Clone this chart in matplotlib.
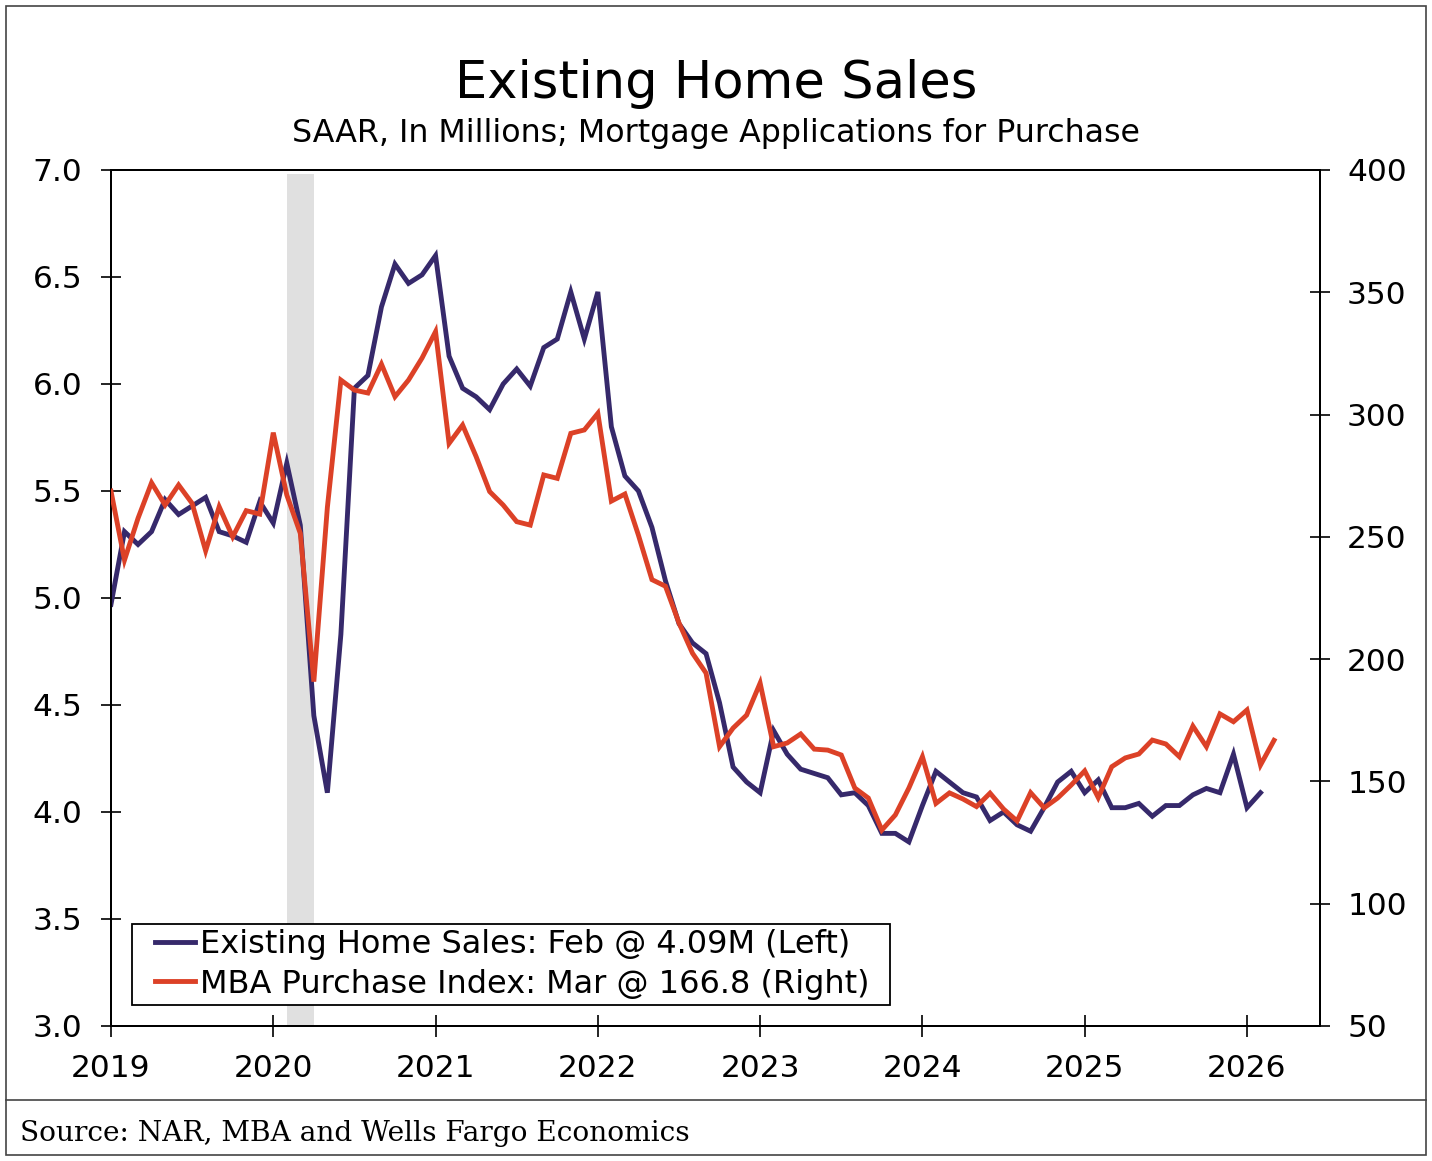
import numpy as np
import matplotlib.pyplot as plt
from matplotlib.patches import Rectangle
from matplotlib.lines import Line2D
from matplotlib.legend_handler import HandlerLine2D

# data, monthly from Jan 2019
ehs = [4.97, 5.31, 5.25, 5.31, 5.46, 5.39, 5.43, 5.47, 5.31, 5.29, 5.26, 5.45,
       5.35, 5.63, 5.34, 4.45, 4.09, 4.83, 5.98, 6.04, 6.36, 6.56, 6.47, 6.51,
       6.60, 6.13, 5.98, 5.94, 5.88, 6.00, 6.07, 5.99, 6.17, 6.21, 6.43, 6.21,
       6.43, 5.80, 5.57, 5.50, 5.33, 5.08, 4.88, 4.79, 4.74, 4.51, 4.21, 4.14,
       4.09, 4.38, 4.27, 4.20, 4.18, 4.16, 4.08, 4.09, 4.03, 3.90, 3.90, 3.86,
       4.03, 4.19, 4.14, 4.09, 4.07, 3.96, 4.00, 3.94, 3.91, 4.02, 4.14, 4.19,
       4.09, 4.15, 4.02, 4.02, 4.04, 3.98, 4.03, 4.03, 4.08, 4.11, 4.09, 4.27,
       4.02, 4.09]
mba = [268.7, 240.5, 257.6, 272.1, 263.0, 271.2, 263.7, 244.3, 262.3, 250.0, 260.7, 259.3,
       292.6, 267.1, 251.4, 190.8, 262.0, 314.1, 310.0, 308.8, 320.6, 307.3, 314.1, 323.1,
       333.9, 288.2, 295.7, 282.8, 268.5, 263.0, 256.2, 254.8, 275.3, 273.9, 292.3, 293.7,
       300.5, 264.6, 267.5, 250.7, 232.5, 229.8, 214.8, 202.4, 194.3, 164.2, 171.8, 177.1,
       190.2, 164.2, 165.7, 169.4, 163.2, 162.8, 160.8, 147.3, 143.2, 130.1, 136.3, 147.3,
       160.1, 141.0, 145.3, 142.8, 139.7, 145.2, 138.7, 133.8, 145.4, 139.2, 143.2, 148.5,
       154.3, 143.4, 156.0, 159.6, 161.2, 166.9, 165.3, 160.1, 172.6, 164.2, 177.6, 174.4,
       179.2, 156.7, 166.8]
years = [2019, 2020, 2021, 2022, 2023, 2024, 2025, 2026]
left_ticks = [3.0, 3.5, 4.0, 4.5, 5.0, 5.5, 6.0, 6.5, 7.0]
right_ticks = [50, 100, 150, 200, 250, 300, 350, 400]
recession = (2020 + 1 / 12, 2020 + 3 / 12)

labels = ["Existing Home Sales: Feb @ 4.09M (Left)",
          "MBA Purchase Index: Mar @ 166.8 (Right)"]

blue = "#36296B"
red = "#DC4127"

x_ehs = 2019 + np.arange(len(ehs)) / 12
x_mba = 2019 + np.arange(len(mba)) / 12

plt.rcParams['font.family'] = ['DejaVu Sans']

fig = plt.figure(figsize=(14.32, 11.61), dpi=100)
ax = fig.add_axes([0.0775, 0.1163, 0.8443, 0.7373])
ax2 = ax.twinx()

ax.axvspan(recession[0], recession[1], ymin=0, ymax=0.995, color="#E0E0E0", lw=0, zorder=0)
ax.plot(x_ehs, ehs, color=blue, lw=3.5, solid_joinstyle='miter', zorder=3)
ax2.plot(x_mba, mba, color=red, lw=3.5, solid_joinstyle='miter', zorder=3)

ax.set_xlim(2019, 2026.45)
ax.set_ylim(3.0, 7.0)
ax2.set_ylim(50, 400)

ax.set_xticks(years)
ax.set_xticklabels([str(y) for y in years])
ax.set_yticks(left_ticks)
ax.set_yticklabels([f"{v:.1f}" for v in left_ticks])
ax2.set_yticks(right_ticks)

ax.tick_params(axis='x', direction='inout', length=16, width=1.2, labelsize=22.5, pad=12)
ax.tick_params(axis='y', direction='inout', length=15, width=1.2, labelsize=22.5, pad=13)
ax2.tick_params(axis='y', direction='inout', length=15, width=1.2, labelsize=22.5, pad=12)

for a in (ax, ax2):
    for s in a.spines.values():
        s.set_linewidth(1.4)
        s.set_color('black')

handles = [Line2D([], [], color=blue, lw=3.5), Line2D([], [], color=red, lw=3.5)]
leg = ax2.legend(handles, labels, loc='lower left',
                 bbox_to_anchor=(0.0174, 0.0245, 0.627, 0.1), mode='expand',
                 borderaxespad=0, fontsize=23, handlelength=1.8, handletextpad=0.16,
                 labelspacing=0.27, borderpad=0.17, fancybox=False, framealpha=1,
                 edgecolor='black', handler_map={Line2D: HandlerLine2D(xpad=0.55)})
leg.get_frame().set_linewidth(1.3)
leg.set_zorder(10)

fig.text(0.5, 0.928, "Existing Home Sales", ha='center', va='center', fontsize=36.8)
fig.text(0.5, 0.885, "SAAR, In Millions; Mortgage Applications for Purchase",
         ha='center', va='center', fontsize=22.8)
fig.text(0.014, 0.024, "Source: NAR, MBA and Wells Fargo Economics", ha='left',
         va='center', fontsize=20.2, family='DejaVu Serif')

# outer frame and source divider
fig.add_artist(Rectangle((0.0045, 0.005), 0.991, 0.99, transform=fig.transFigure,
                         fill=False, edgecolor='#444444', lw=1.2))
fig.add_artist(Line2D([0.0045, 0.9955], [0.0525, 0.0525], transform=fig.transFigure,
                      color='#444444', lw=1.2))

fig.savefig("out.png", dpi=100)
